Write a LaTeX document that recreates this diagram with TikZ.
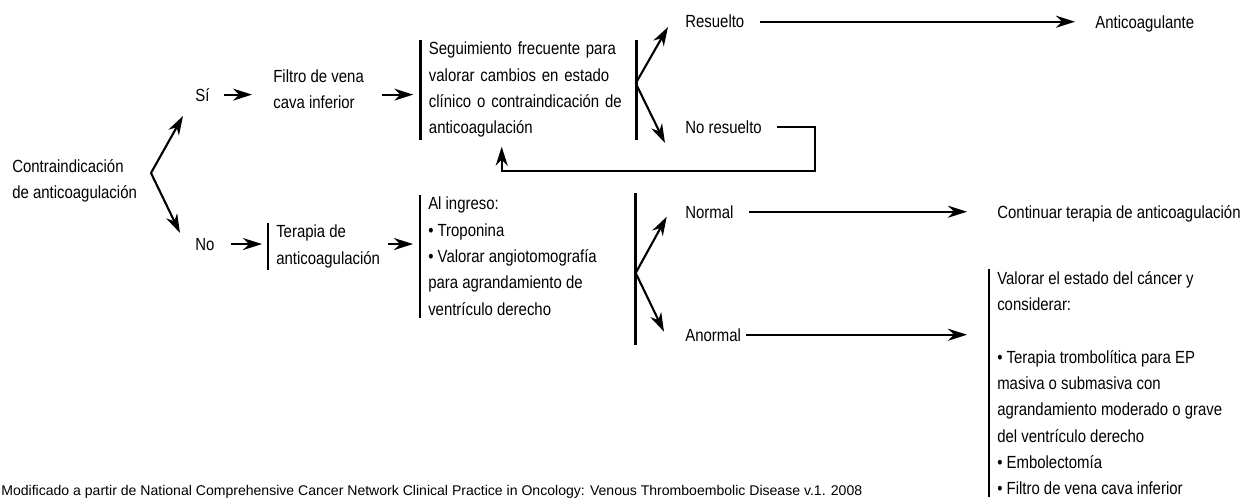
\documentclass[tikz,border=0pt]{standalone}
\usepackage{fontspec}
\setmainfont{Liberation Sans}[FakeStretch=0.85]
\newfontfamily\footfont{Liberation Sans}
\usetikzlibrary{arrows.meta}
\tikzstyle{txt} = [inner sep=0pt,font=\fontsize{10}{15}\selectfont]
\tikzstyle{barbox} = [txt,anchor=north west,align=left,inner xsep=4.5pt,inner ysep=1pt]
\tikzstyle{connector} = [-{Stealth[length=3.8mm,width=2.4mm,inset=1.2mm]},line width=1.2pt]
\tikzstyle{bar} = [line width=1.5pt]

\begin{document}
\begin{tikzpicture}[x=0.02cm,y=-0.02cm]
    \clip (0,0) rectangle (1246,500);
    % node placement at pixel coordinates of the page
    \node[txt,anchor=north west,align=left] (contra) at (12,159) {Contraindicación\\de anticoagulación};
    \node[txt,anchor=base west] (si) at (195,101) {Sí};
    \node[txt,anchor=base west] (no) at (195,250) {No};
    \node[txt,anchor=north west,align=left] (filtro) at (273,69) {Filtro de vena\\cava inferior};
    \node[barbox,text width=3.98cm] (segui) at (420.7,40) {Seguimiento frecuente para\\valorar cambios en estado\\clínico o contraindicación de\\anticoagulación};
    \node[txt,anchor=base west] (resuelto) at (685,28) {Resuelto};
    \node[txt,anchor=base west] (noresuelto) at (685,133) {No resuelto};
    \node[txt,anchor=base west] (anticoag) at (1095,29) {Anticoagulante};
    \node[barbox] (terapia) at (268,223) {Terapia de\\anticoagulación};
    \node[barbox] (ingreso) at (420,195) {Al ingreso:\\• Troponina\\• Valorar angiotomografía\\para agrandamiento de\\ventrículo derecho};
    \node[txt,anchor=base west] (normal) at (685,218) {Normal};
    \node[txt,anchor=base west] (anormal) at (685,341) {Anormal};
    \node[txt,anchor=base west] (continuar) at (997,218) {Continuar terapia de anticoagulación};
    \node[barbox] (valorar) at (989,269) {Valorar el estado del cáncer y\\considerar:\\[15pt]• Terapia trombolítica para EP\\masiva o submasiva con\\agrandamiento moderado o grave\\del ventrículo derecho\\• Embolectomía\\• Filtro de vena cava inferior};
    \node[inner sep=0pt,anchor=base west,font=\footfont\fontsize{8}{10}\selectfont] (fuente) at (1,495) {Modificado a partir de National Comprehensive Cancer Network Clinical Practice in Oncology: Venous Thromboembolic Disease v.1. 2008};
    % fork points and free arrow ends
    \coordinate (forkA) at (151,173);
    \coordinate (siin) at (183,116);
    \coordinate (noin) at (180,233);
    \coordinate (forkB) at (635.7,83.3);
    \coordinate (resin) at (668,27);
    \coordinate (nresin) at (665,143);
    \coordinate (loop) at (815,171);
    \coordinate (back) at (501.7,146.7);
    \coordinate (forkC) at (635.7,273);
    \coordinate (normin) at (666.7,216.7);
    \coordinate (anormin) at (664,331.7);
    \coordinate (ibartop) at (635.7,193);
    \coordinate (ibarbot) at (635.7,345);
    % bars
    \draw [bar] (segui.north west) -- (segui.south west);
    \draw [bar] (segui.north east) -- (segui.south east);
    \draw [bar] (terapia.north west) -- (terapia.south west);
    \draw [bar] (ingreso.north west) -- (ingreso.south west);
    \draw [bar] (ibartop) -- (ibarbot);
    \draw [bar] (valorar.north west) -- (valorar.south west);
    % now link the nodes
    \draw [connector] (forkA) -- (siin);
    \draw [connector] (forkA) -- (noin);
    \draw [connector,shorten <=0.28cm,shorten >=0.42cm] (si.east) -- (si.east -| filtro.west);
    \draw [connector,shorten <=0.36cm,shorten >=0.15cm] (filtro.east |- si.east) -- (segui.west |- si.east);
    \draw [connector] (forkB) -- (resin);
    \draw [connector] (forkB) -- (nresin);
    \draw [connector,shorten <=0.3cm,shorten >=0.4cm] (resuelto.east) -- (resuelto.east -| anticoag.west);
    \draw [connector,shorten <=0.3cm] (noresuelto.east) -| (loop) -| (back);
    \draw [connector,shorten <=0.32cm,shorten >=0.12cm] (no.east) -- (no.east -| terapia.west);
    \draw [connector,shorten >=0.14cm] (terapia.east |- no.east) -- (ingreso.west |- no.east);
    \draw [connector] (forkC) -- (normin);
    \draw [connector] (forkC) -- (anormin);
    \draw [connector,shorten <=0.3cm,shorten >=0.6cm] (normal.east) -- (normal.east -| continuar.west);
    \draw [connector,shorten <=0.1cm,shorten >=0.44cm] (anormal.east) -- (anormal.east -| valorar.west);
\end{tikzpicture}
\end{document}
